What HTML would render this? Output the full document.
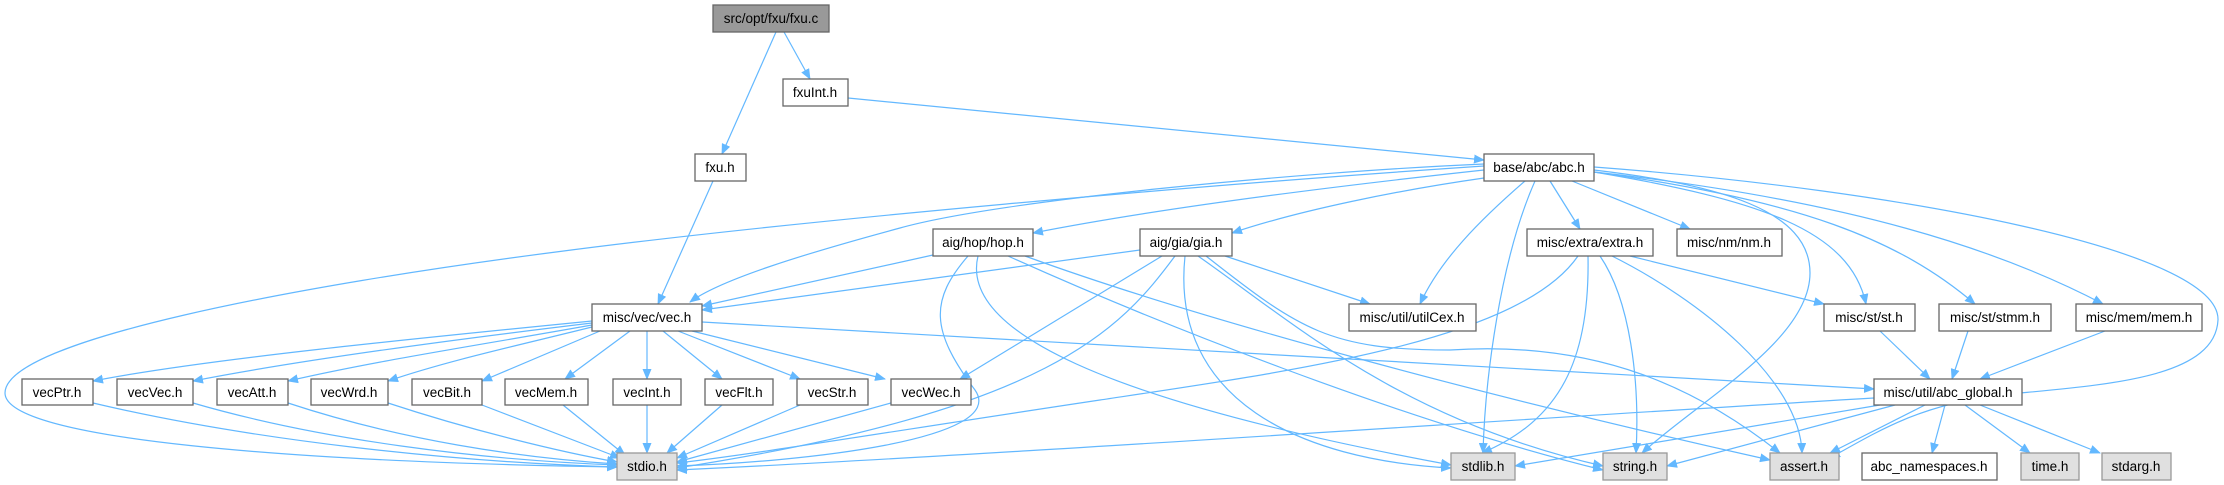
<!DOCTYPE html>
<html><head><meta charset="utf-8"><style>
html,body{margin:0;padding:0;background:#fff;}
svg{display:block;}
text{font-family:"Liberation Sans",Arial,sans-serif;font-size:13.5px;fill:#000;text-anchor:middle;}
.e{fill:none;stroke:#63b8ff;stroke-width:1.2;marker-end:url(#a);}
.n{fill:#fff;stroke:#666;stroke-width:1.3;}
.g{fill:#e0e0e0;stroke:#999;stroke-width:1.3;}
</style></head><body>
<svg width="2224" height="485" viewBox="0 0 2224 485" xmlns="http://www.w3.org/2000/svg">
<defs><marker id="a" markerWidth="11" markerHeight="9" refX="10" refY="4.5" orient="auto" markerUnits="userSpaceOnUse"><path d="M0,0 L11,4.5 L0,9 z" fill="#63b8ff"/></marker></defs>

<!-- edges -->
<path class="e" d="M776,32 L722,154"/>
<path class="e" d="M784,32 L810,79"/>
<path class="e" d="M848,98 L1484,160"/>
<path class="e" d="M713,181 L658,304"/>
<path class="e" d="M1484,164 C1300,172 1000,200 900,228 C800,255 720,280 690,302"/>
<path class="e" d="M1484,166 C1200,185 800,220 556,252 C300,285 5,340 5,393 C5,440 300,462 617,467"/>
<path class="e" d="M1484,170 C1300,190 1150,210 1033,233"/>
<path class="e" d="M1484,178 C1400,190 1300,210 1232,233"/>
<path class="e" d="M1525,181 C1480,220 1440,260 1420,304"/>
<path class="e" d="M1535,181 C1500,260 1485,380 1483,453"/>
<path class="e" d="M1550,181 L1580,229"/>
<path class="e" d="M1572,181 L1690,229"/>
<path class="e" d="M1594,170 C1720,185 1810,210 1810,273 C1810,340 1700,400 1642,453"/>
<path class="e" d="M1594,172 C1760,200 1850,230 1866,304"/>
<path class="e" d="M1594,172 C1800,200 1900,240 1975,304"/>
<path class="e" d="M1594,172 C1850,200 2000,250 2103,304"/>
<path class="e" d="M1594,167 C1900,190 2220,250 2218,320 C2215,380 2100,385 2000,395 C1920,405 1880,430 1830,458"/>
<path class="e" d="M702,322 L1874,389"/>
<path class="e" d="M933,255 L702,306"/>
<path class="e" d="M968,256 C930,300 930,330 975,390 C1010,440 800,462 677,466"/>
<path class="e" d="M978,256 C960,330 1100,400 1451,465"/>
<path class="e" d="M1008,256 C1150,320 1400,420 1603,470"/>
<path class="e" d="M1025,256 C1200,320 1500,400 1770,460"/>
<path class="e" d="M1140,250 L702,310"/>
<path class="e" d="M1162,256 L960,379"/>
<path class="e" d="M1175,256 C1120,330 1050,410 677,468"/>
<path class="e" d="M1185,256 C1170,400 1300,460 1451,468"/>
<path class="e" d="M1198,256 C1290,320 1400,420 1603,466"/>
<path class="e" d="M1206,256 C1300,330 1330,350 1450,350 C1600,340 1700,390 1780,453"/>
<path class="e" d="M1225,256 L1370,304"/>
<path class="e" d="M1578,256 C1520,340 1300,370 1100,400 C900,430 750,455 677,463"/>
<path class="e" d="M1588,256 C1590,360 1560,420 1482,453"/>
<path class="e" d="M1600,256 C1630,300 1640,380 1636,453"/>
<path class="e" d="M1612,256 C1700,300 1800,380 1802,453"/>
<path class="e" d="M1630,256 L1824,304"/>
<path class="e" d="M1880,331 L1930,379"/>
<path class="e" d="M1968,331 L1952,379"/>
<path class="e" d="M2105,331 L1980,379"/>
<path class="e" d="M1874,398 C1500,420 1000,455 677,470"/>
<path class="e" d="M1880,405 L1515,466"/>
<path class="e" d="M1895,405 L1667,466"/>
<path class="e" d="M1925,405 L1830,453"/>
<path class="e" d="M1945,405 L1932,453"/>
<path class="e" d="M1965,405 L2030,453"/>
<path class="e" d="M1980,405 L2100,453"/>
<!-- vec.h -> vecX -->
<path class="e" d="M592,321 C400,340 200,360 93,381"/>
<path class="e" d="M592,323 C450,340 300,360 193,381"/>
<path class="e" d="M592,325 C480,345 380,360 288,381"/>
<path class="e" d="M592,327 C520,345 450,360 388,381"/>
<path class="e" d="M600,331 L482,381"/>
<path class="e" d="M630,331 L565,379"/>
<path class="e" d="M647,331 L647,379"/>
<path class="e" d="M663,331 L722,379"/>
<path class="e" d="M678,331 L800,379"/>
<path class="e" d="M692,331 L885,379"/>
<!-- vecX -> stdio.h -->
<path class="e" d="M93,403 C250,440 450,462 617,467"/>
<path class="e" d="M193,403 C320,440 480,460 617,465"/>
<path class="e" d="M288,403 C400,440 520,458 617,464"/>
<path class="e" d="M388,403 C470,430 560,452 617,462"/>
<path class="e" d="M482,405 L620,458"/>
<path class="e" d="M563,405 L625,455"/>
<path class="e" d="M647,405 L647,453"/>
<path class="e" d="M722,405 L667,453"/>
<path class="e" d="M800,405 L677,458"/>
<path class="e" d="M891,403 L677,462"/>

<!-- nodes -->
<rect x="713" y="5" width="116" height="27" fill="#999" stroke="#666" stroke-width="1.3"/><text x="771" y="23">src/opt/fxu/fxu.c</text>
<rect class="n" x="783" y="79" width="65" height="27"/><text x="815" y="97">fxuInt.h</text>
<rect class="n" x="695" y="154" width="51" height="27"/><text x="720" y="172">fxu.h</text>
<rect class="n" x="1484" y="154" width="110" height="27"/><text x="1539" y="172">base/abc/abc.h</text>
<rect class="n" x="933" y="229" width="100" height="27"/><text x="983" y="247">aig/hop/hop.h</text>
<rect class="n" x="1140" y="229" width="92" height="27"/><text x="1186" y="247">aig/gia/gia.h</text>
<rect class="n" x="1527" y="229" width="126" height="27"/><text x="1590" y="247">misc/extra/extra.h</text>
<rect class="n" x="1677" y="229" width="105" height="27"/><text x="1729" y="247">misc/nm/nm.h</text>
<rect class="n" x="592" y="304" width="110" height="27"/><text x="647" y="322">misc/vec/vec.h</text>
<rect class="n" x="1349" y="304" width="127" height="27"/><text x="1412" y="322">misc/util/utilCex.h</text>
<rect class="n" x="1824" y="304" width="91" height="27"/><text x="1869" y="322">misc/st/st.h</text>
<rect class="n" x="1939" y="304" width="112" height="27"/><text x="1995" y="322">misc/st/stmm.h</text>
<rect class="n" x="2076" y="304" width="126" height="27"/><text x="2139" y="322">misc/mem/mem.h</text>
<rect class="n" x="22" y="379" width="71" height="26"/><text x="57" y="397">vecPtr.h</text>
<rect class="n" x="117" y="379" width="76" height="26"/><text x="155" y="397">vecVec.h</text>
<rect class="n" x="217" y="379" width="71" height="26"/><text x="252" y="397">vecAtt.h</text>
<rect class="n" x="311" y="379" width="77" height="26"/><text x="349" y="397">vecWrd.h</text>
<rect class="n" x="412" y="379" width="70" height="26"/><text x="447" y="397">vecBit.h</text>
<rect class="n" x="505" y="379" width="83" height="26"/><text x="546" y="397">vecMem.h</text>
<rect class="n" x="613" y="379" width="68" height="26"/><text x="647" y="397">vecInt.h</text>
<rect class="n" x="705" y="379" width="68" height="26"/><text x="739" y="397">vecFlt.h</text>
<rect class="n" x="797" y="379" width="71" height="26"/><text x="832" y="397">vecStr.h</text>
<rect class="n" x="891" y="379" width="80" height="26"/><text x="931" y="397">vecWec.h</text>
<rect class="n" x="1874" y="379" width="148" height="26"/><text x="1948" y="397">misc/util/abc_global.h</text>
<rect class="g" x="617" y="453" width="60" height="27"/><text x="647" y="471">stdio.h</text>
<rect class="g" x="1451" y="453" width="64" height="27"/><text x="1483" y="471">stdlib.h</text>
<rect class="g" x="1603" y="453" width="64" height="27"/><text x="1635" y="471">string.h</text>
<rect class="g" x="1770" y="453" width="69" height="27"/><text x="1804" y="471">assert.h</text>
<rect class="n" x="1862" y="453" width="135" height="27"/><text x="1929" y="471">abc_namespaces.h</text>
<rect class="g" x="2021" y="453" width="58" height="27"/><text x="2050" y="471">time.h</text>
<rect class="g" x="2102" y="453" width="69" height="27"/><text x="2136" y="471">stdarg.h</text>
</svg>
</body></html>
